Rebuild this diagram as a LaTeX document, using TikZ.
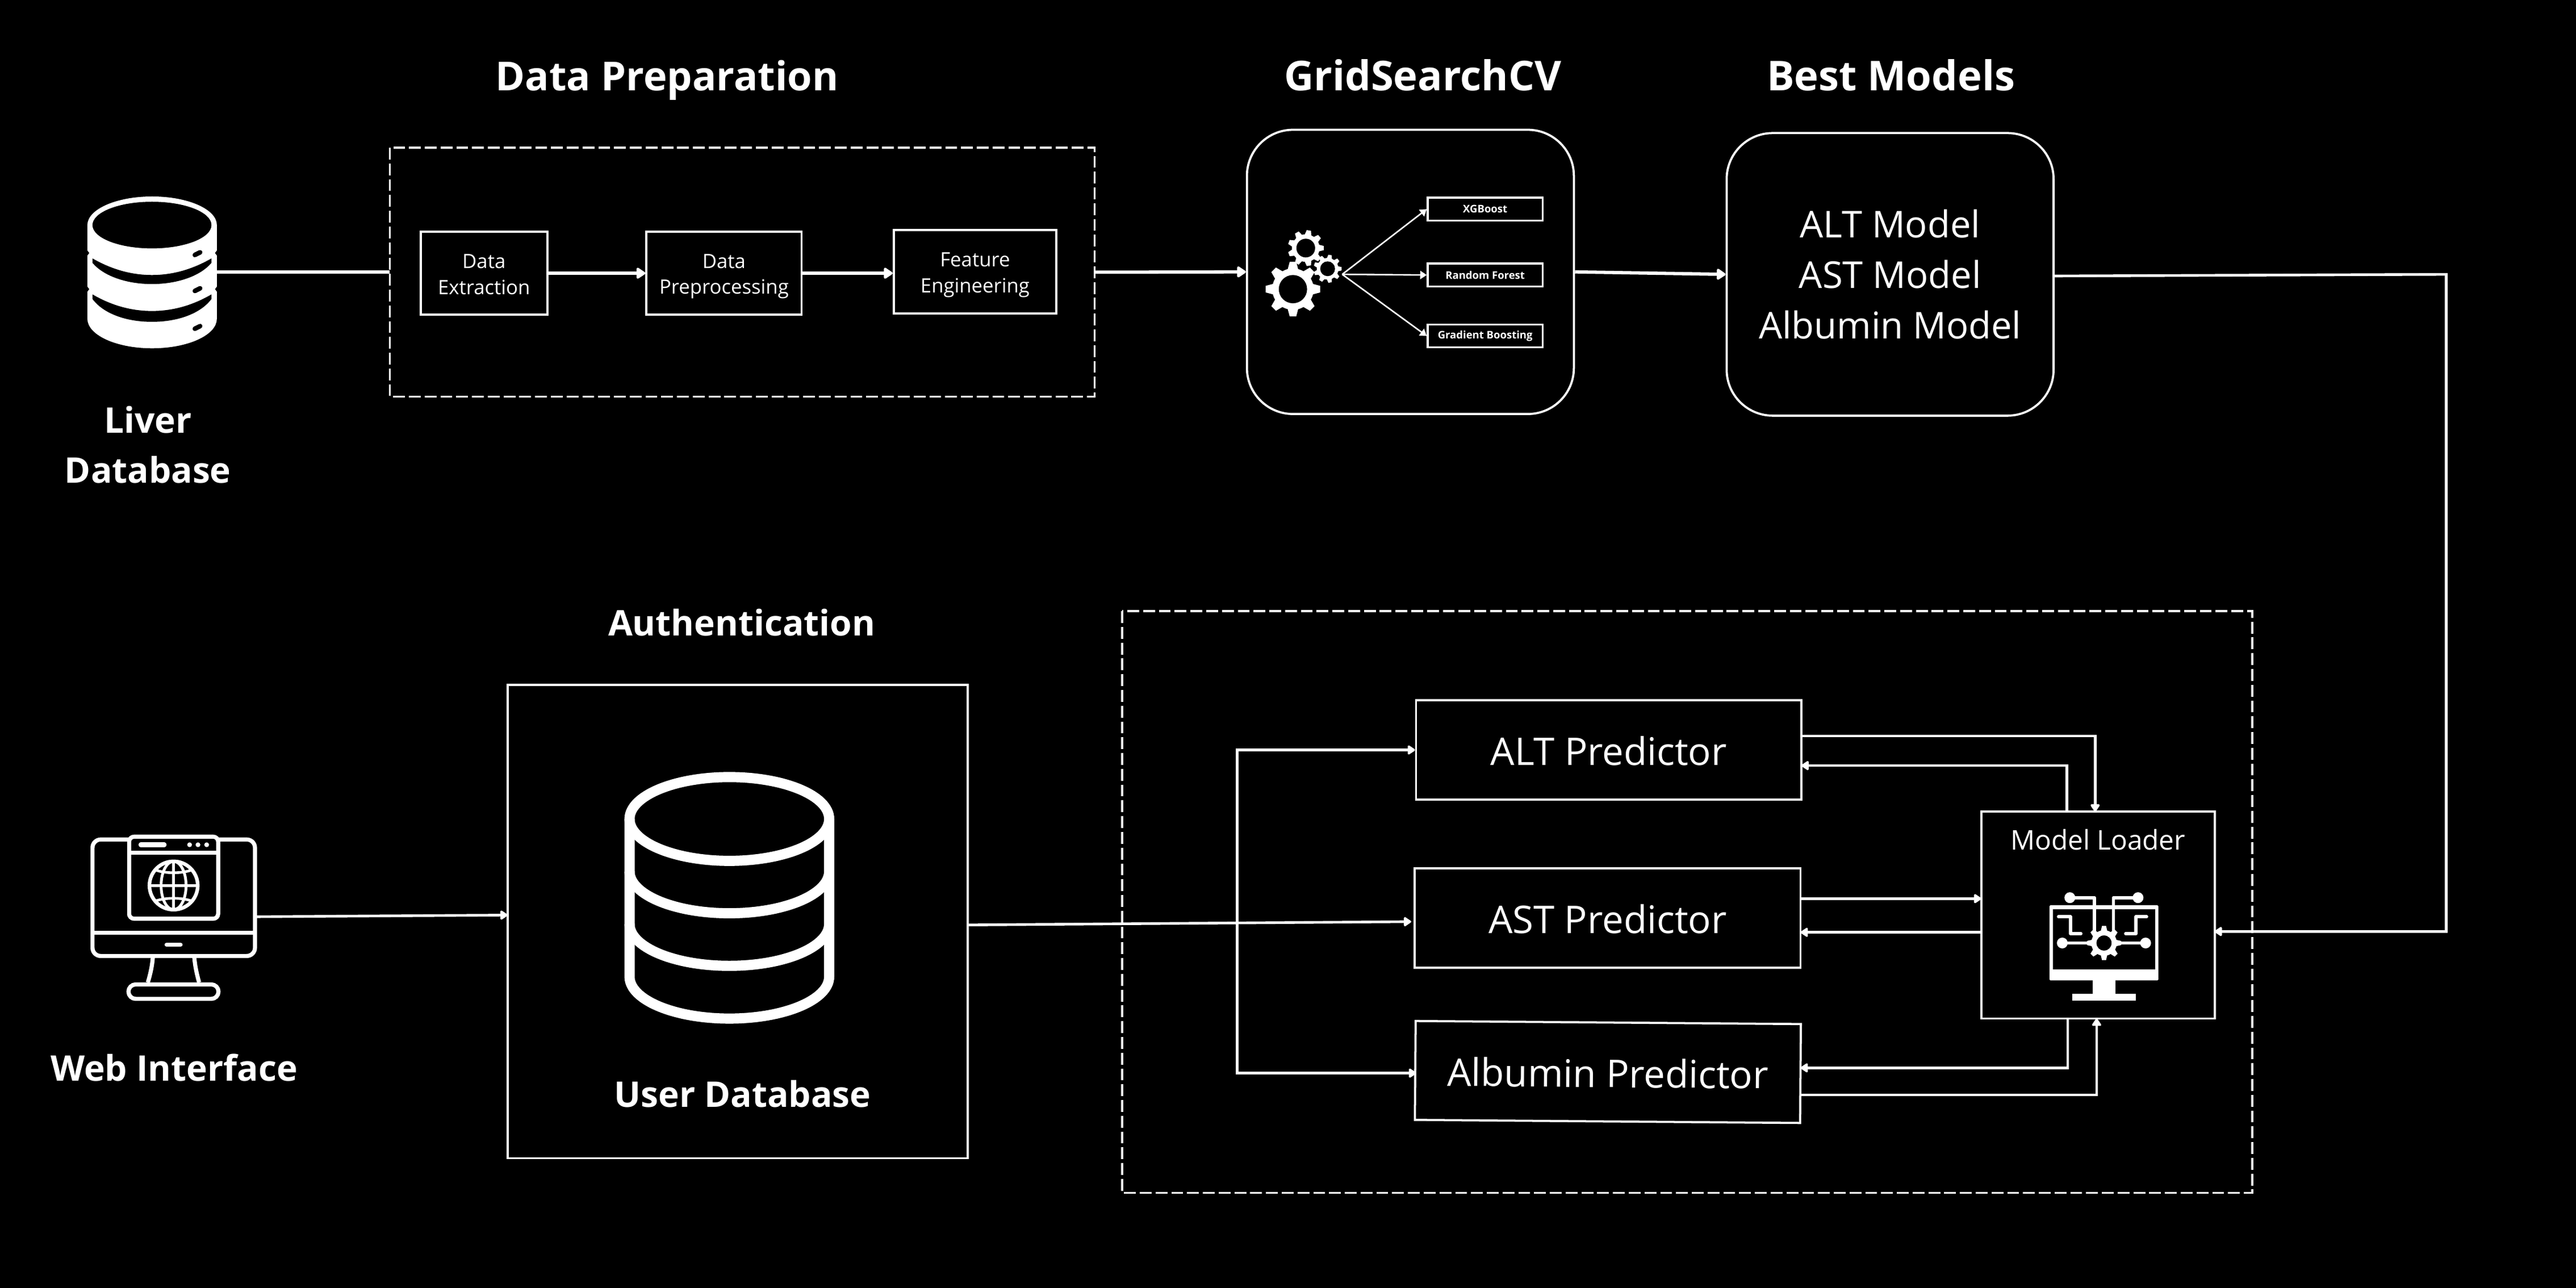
\documentclass[tikz,border=0pt]{standalone}
\usepackage{fontspec}
\setmainfont{Open Sans}
\usetikzlibrary{positioning, arrows.meta}
\tikzset{
    >={Triangle[length=5pt,width=6.3pt,round]},
    wire/.style={draw=white,line width=1.6pt},
    flow/.style={wire,->},
    big wire/.style={draw=white,line width=2pt},
    big flow/.style={big wire,->,>={Triangle[length=6pt,width=7.6pt,round]}},
    thin flow/.style={draw=white,line width=0.9pt,->,>={Triangle[length=4pt,width=5pt]}},
    dashed frame/.style={draw=white,line width=1.15pt,dash pattern=on 7.2pt off 2.4pt},
    plain box/.style={rectangle,draw=white,line width=1.3pt,text=white,align=center,inner sep=0},
    round box/.style={plain box,rounded corners=28pt},
    step box/.style={plain box,font=\fontsize{12}{15.7}\selectfont},
    algo box/.style={plain box,line width=1.1pt,font=\fontsize{6.4}{8}\selectfont\bfseries},
    predictor box/.style={plain box,font=\fontsize{23.2}{26}\selectfont,execute at begin node={\rule{0pt}{19pt}}},
    title text/.style={text=white,align=center,anchor=base,inner sep=0,font=\fontsize{25}{30}\selectfont\bfseries},
    small title/.style={title text,font=\fontsize{21.5}{30.5}\selectfont\bfseries},
    icon line/.style={draw=white,line width=2.5pt},
}
% gear: x, y, body radius, tip radius, hole radius, teeth step
\newcommand{\geargly}[6]{%
    \begin{scope}[shift={(#1,#2)}]
    \foreach \ang in {0,#6,...,359}
        \fill[white,rotate=\ang] (#3-1,-0.2*#4) -- (#4,-0.12*#4) -- (#4,0.12*#4) -- (#3-1,0.2*#4) -- cycle;
    \fill[white] (0,0) circle (#3);
    \fill[black] (0,0) circle (#5);
    \end{scope}
}
\begin{document}
\begin{tikzpicture}[x=1pt,y=-1pt]
\fill[black] (0,0) rectangle (1568,784);
\useasboundingbox (0,0) rectangle (1568,784);

% liver database icon
\fill[white] (53.2,137) arc[start angle=180,end angle=360,x radius=39.4,y radius=17.4]
    -- (132,194) arc[start angle=0,end angle=180,x radius=39.4,y radius=18] -- cycle;
\fill[black] (92.5,137) ellipse (36.2 and 14.2);
\fill[black] (56.3,157.3) .. controls (68,164) and (80,167.4) .. (92.5,167.4) .. controls (105,167.4) and (117,164) .. (128.7,157.3)
    -- (128.7,160) .. controls (122,168) and (108,172.9) .. (92.5,172.9) .. controls (77,172.9) and (63,168) .. (56.3,160) -- cycle;
\fill[black] (56.3,179.2) .. controls (68,186) and (80,189.3) .. (92.5,189.3) .. controls (105,189.3) and (117,186) .. (128.7,179.2)
    -- (128.7,182) .. controls (122,191) and (108,195.9) .. (92.5,195.9) .. controls (77,195.9) and (63,191) .. (56.3,182) -- cycle;
\foreach \yy in {154.4,176.3,199.3}
    \draw[black,line width=2.8pt,line cap=round] (118.6,\yy+0.8) -- (121.8,\yy-0.8);
\foreach \yy in {154,176}{
    \fill[black] (52.8,\yy-2) -- (54.3,\yy) -- (52.8,\yy+2) -- cycle;
    \fill[black] (132.4,\yy-2) -- (130.9,\yy) -- (132.4,\yy+2) -- cycle;
}
\coordinate (liverdb) at (132,165.7);
\node[small title] (livertxt) at (90,294) {Liver\\Database};

% data preparation
\node[title text,font=\fontsize{24.3}{30}\selectfont\bfseries] (preptxt) at (406,55) {Data Preparation};
\draw[dashed frame] (237.2,89.9) rectangle (666.4,241.4);
\coordinate (prepL) at (237.2,165.7);
\coordinate (prepR) at (666.4,165.7);
\node[step box,minimum width=77pt,minimum height=50.6pt] (extract) at (294.6,166.3) {\rule{0pt}{10pt}Data\\Extraction};
\node[step box,minimum width=94.5pt,minimum height=50.6pt] (preproc) at (440.7,166.3) {\rule{0pt}{12.5pt}Data\\Preprocessing};
\node[step box,minimum width=99pt,minimum height=50.7pt] (feature) at (593.5,165.4) {\rule{0pt}{12.5pt}Feature\\Engineering};
\draw[big flow] (extract) -- (preproc);
\draw[big wire] (liverdb) -- (prepL);
\coordinate (featL) at (feature.west |- preproc.east);
\draw[big flow] (preproc.east) -- (featL);

% grid search
\node[title text] (gridtxt) at (866,55) {GridSearchCV};
\node[round box,minimum width=199pt,minimum height=173pt] (grid) at (858.5,165.5) {};
\draw[big flow] (prepR) -- (grid.west);
\geargly{787}{176}{12.6}{16.6}{8.6}{45}
\geargly{794.8}{151}{8.4}{10.9}{5.7}{40}
\geargly{808.1}{163.6}{6.6}{8.5}{4.5}{40}
\coordinate (gearout) at (817,167);
\node[algo box,minimum width=70pt,minimum height=14pt] (xgb) at (904,127.3) {XGBoost};
\node[algo box,minimum width=70pt,minimum height=14pt] (rf) at (904,167.4) {Random Forest};
\node[algo box,minimum width=70pt,minimum height=14pt] (gb) at (904,204.5) {Gradient Boosting};
\draw[thin flow] (gearout) -- (xgb.west);
\draw[thin flow] (gearout) -- (rf.west);
\draw[thin flow] (gearout) -- (gb.west);

% best models
\node[title text] (besttxt) at (1151,55) {Best Models};
\node[round box,minimum width=199pt,minimum height=172pt,font=\fontsize{22.5}{30.7}\selectfont] (best) at (1150.5,167) {ALT Model\\AST Model\\Albumin Model};
\draw[big flow] (grid.east) -- (best.west);

% web interface icon
\draw[icon line,rounded corners=5pt] (56.3,511) rectangle (155.2,581.9);
\draw[icon line] (56.3,567.8) -- (155.2,567.8);
\draw[icon line,line width=2.7pt,line cap=round] (101.5,575) -- (109.8,575);
\draw[icon line] (93,583) .. controls (92.6,588) and (91.5,593) .. (90,598);
\draw[icon line] (118.3,583) .. controls (118.7,588) and (119.8,593) .. (121.2,598);
\draw[icon line,rounded corners=4.4pt] (78.2,599.2) rectangle (133,608);
\draw[icon line,fill=black,rounded corners=3pt] (78.6,509.3) rectangle (132.8,559.2);
\draw[icon line] (78.6,519) -- (132.8,519);
\draw[icon line,line width=2.8pt,line cap=round] (85.7,514.2) -- (100,514.2);
\foreach \xx in {115.4,120.5,125.8}
    \fill[white] (\xx,514.2) circle (1.45);
\begin{scope}[shift={(105.66,539)}]
    \draw[icon line,line width=2.2pt] (0,0) circle (14.7);
    \draw[icon line,line width=1.7pt] (0,0) ellipse (7.6 and 14.7);
    \draw[icon line,line width=1.8pt] (-14.7,0) -- (14.7,0);
    \draw[icon line,line width=1.8pt] (0,-14.7) -- (0,14.7);
    \draw[icon line,line width=1.6pt] (-11.2,-9.5) .. controls (-5,-7.2) and (5,-7.2) .. (11.2,-9.5);
    \draw[icon line,line width=1.6pt] (-11.2,9.5) .. controls (-5,7.2) and (5,7.2) .. (11.2,9.5);
\end{scope}
\coordinate (webout) at (156,558);
\node[small title] (webtxt) at (106,658) {Web Interface};

% authentication
\node[small title] (authtxt) at (451.5,387) {Authentication};
\node[plain box,minimum width=280pt,minimum height=288pt] (auth) at (449,561) {};
\coordinate (authin) at (309,557);
\coordinate (authout) at (589,563);
\draw[flow] (webout) -- (authin);
\begin{scope}[line width=6.2pt]
    \draw[white] (383.2,498.5) -- (383.2,594.5) arc[start angle=180,end angle=360,x radius=60.75,y radius=-25.5] -- (504.7,498.5);
    \draw[white] (443.95,498.5) ellipse (60.75 and 25.5);
    \draw[white] (383.2,530.4) arc[start angle=180,end angle=360,x radius=60.75,y radius=-25.5];
    \draw[white] (383.2,562.4) arc[start angle=180,end angle=360,x radius=60.75,y radius=-25.5];
\end{scope}
\node[small title] (usertxt) at (452,674) {User Database};

% predictors
\draw[dashed frame] (683,372) rectangle (1371,726);
\node[predictor box,minimum width=234.5pt,minimum height=60.5pt] (altp) at (979.2,456.5) {ALT Predictor};
\node[predictor box,minimum width=234.8pt,minimum height=60.5pt] (astp) at (978.6,558.7) {AST Predictor};
\node[predictor box,minimum width=234.5pt,minimum height=60.2pt,rotate=-0.46] (albp) at (978.7,652.5) {Albumin Predictor};
\node[plain box,minimum width=142pt,minimum height=126pt] (loader) at (1277,557) {};
\node[text=white,inner sep=0,font=\fontsize{16.5}{20}\selectfont] (loadertxt) at (1277,511) {Model Loader};

% model loader icon
\fill[white,rounded corners=0.6pt] (1247.5,551) rectangle (1313.8,596.8);
\fill[black] (1249.7,553.4) rectangle (1311.8,589.9);
\fill[white] (1273.8,596.8) rectangle (1287.6,604.9);
\fill[white] (1261.3,604.9) rectangle (1300.2,609.2);
\begin{scope}[draw=white,line width=2pt,line join=round]
    \draw (1259.9,546.4) -- (1274.9,546.4) -- (1274.9,567);
    \draw (1301.4,546.4) -- (1286.4,546.4) -- (1286.4,567);
    \draw[line cap=round] (1253,558) -- (1260.2,558) -- (1260.2,568.3) -- (1266.6,568.3);
    \draw[line cap=round] (1306.6,558) -- (1300.2,558) -- (1300.2,568.3) -- (1293.9,568.3);
    \draw[line width=1.5pt] (1255.3,574) -- (1306,574);
\end{scope}
\foreach \xx/\yy in {1259.9/546.4,1301.4/546.4,1255.3/574,1306/574}
    \fill[white] (\xx,\yy) circle (3.3);
\geargly{1280.7}{574}{7.8}{10.4}{4.6}{45}

% loader connectors
\coordinate (altout) at (1096.5,448);
\coordinate (altin) at (1096.5,466);
\coordinate (loadtopA) at (1275.3,494);
\coordinate (loadtopB) at (1258,494);
\coordinate (astout) at (1096,547);
\coordinate (astin) at (1096,567.5);
\coordinate (loadL1) at (1206,547);
\coordinate (loadL2) at (1206,567.5);
\coordinate (albin) at (1096,650);
\coordinate (albout) at (1096,666.5);
\coordinate (loadbotA) at (1258.6,620);
\coordinate (loadbotB) at (1276.2,620);
\draw[flow] (altout) -| (loadtopA);
\draw[flow] (loadtopB) |- (altin);
\draw[flow] (astout) -- (loadL1);
\draw[flow] (loadL2) -- (astin);
\draw[flow] (loadbotA) |- (albin);
\draw[flow] (albout) -| (loadbotB);

% fan out into predictors
\coordinate (astend) at (859,561);
\coordinate (fork) at (753,562);
\coordinate (albend) at (862,653.2);
\draw[flow] (authout) -- (astend);
\draw[flow] (fork) |- (altp.west);
\draw[flow] (fork) |- (albend);

% best models to loader
\coordinate (bestout) at (1250,168);
\coordinate (corner) at (1489,167);
\coordinate (loaderin) at (1348,567);
\draw[flow] (bestout) -- (corner) -- (corner |- loaderin) -- (loaderin);
\end{tikzpicture}
\end{document}
